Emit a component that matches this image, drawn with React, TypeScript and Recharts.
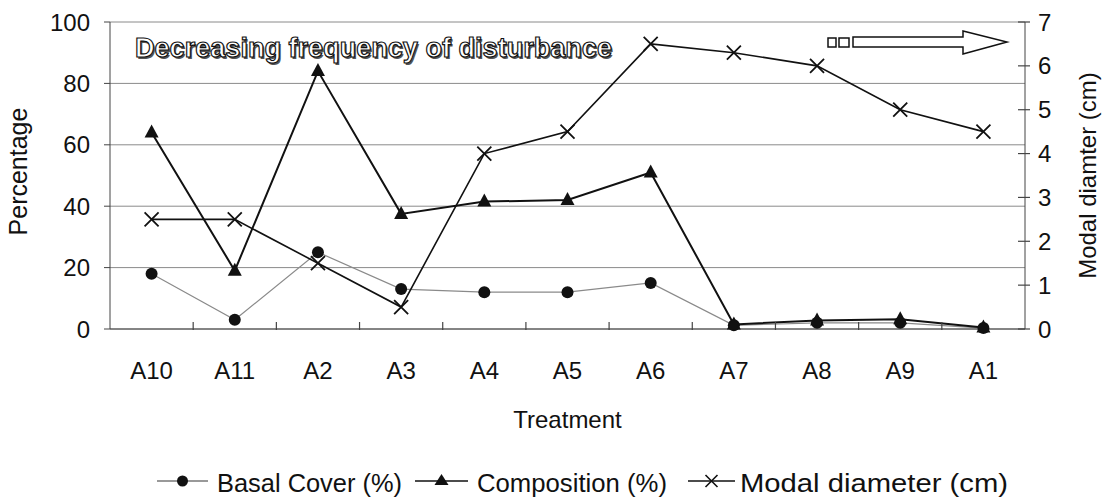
import { ComposedChart, Line, XAxis, YAxis, CartesianGrid, Legend, Customized } from 'recharts'

const treatments = ['A10', 'A11', 'A2', 'A3', 'A4', 'A5', 'A6', 'A7', 'A8', 'A9', 'A1']
const basalCover = [18, 3, 25, 13, 12, 12, 15, 1.2, 2, 2, 0.3]
const composition = [64, 19, 84, 37.5, 41.5, 42, 51, 1.5, 2.8, 3.2, 0.5]
const modalDiameter = [2.5, 2.5, 1.5, 0.5, 4, 4.5, 6.5, 6.3, 6, 5, 4.5]

const percentTicks = [0, 20, 40, 60, 80, 100]
const diameterTicks = [0, 1, 2, 3, 4, 5, 6, 7]

const chartData = treatments.map((name, i) => ({
  name,
  basal: basalCover[i],
  comp: composition[i],
  modal: modalDiameter[i],
}))

const FONT = '"Liberation Sans", Arial, sans-serif'
const INK = '#111'
const AXIS = '#444'
const X_TICK_MARGIN = 33
const R_TICK_MARGIN = 13

function CircleDot(props: any) {
  const { cx, cy, index } = props
  if (cx == null || cy == null) return null
  return <circle key={`c-${index}`} cx={cx} cy={cy} r={6} fill={INK} />
}

function TriangleDot(props: any) {
  const { cx, cy, index } = props
  if (cx == null || cy == null) return null
  return <polygon key={`t-${index}`} points={`${cx},${cy - 8} ${cx + 7},${cy + 5} ${cx - 7},${cy + 5}`} fill={INK} />
}

function CrossDot(props: any) {
  const { cx, cy, index } = props
  if (cx == null || cy == null) return null
  const s = 7
  return (
    <path
      key={`x-${index}`}
      d={`M${cx - s},${cy - s}L${cx + s},${cy + s}M${cx + s},${cy - s}L${cx - s},${cy + s}`}
      stroke={INK}
      strokeWidth={1.8}
      fill="none"
    />
  )
}

// category tick: label plus a small upward mark at the left band boundary
function CategoryTick(props: any) {
  const { x, y, payload, index } = props
  const axisY = y - X_TICK_MARGIN
  const bx = x - (payload?.offset || 0)
  return (
    <g>
      {index > 0 && <line x1={bx} y1={axisY + 1} x2={bx} y2={axisY - 7} stroke={AXIS} strokeWidth={1.2} />}
      <text x={x} y={y} dy="0.71em" textAnchor="middle" fontFamily={FONT} fontSize={24} fill={INK}>
        {payload.value}
      </text>
    </g>
  )
}

// right axis tick: mark crossing the axis line, label outside
function DiameterTick(props: any) {
  const { x, y, payload } = props
  const axisX = x - R_TICK_MARGIN
  return (
    <g>
      <line x1={axisX - 7} y1={y} x2={axisX + 5} y2={y} stroke={AXIS} strokeWidth={1.2} />
      <text x={x} y={y} dy="0.355em" textAnchor="start" fontFamily={FONT} fontSize={24} fill={INK}>
        {payload.value}
      </text>
    </g>
  )
}

function Annotation() {
  return (
    <g>
      <text x={136.5} y={58.5} fontFamily={FONT} fontWeight="bold" fontSize={28} textLength={477}
        lengthAdjust="spacingAndGlyphs" fill="#555">
        Decreasing frequency of disturbance
      </text>
      <text x={135} y={57} fontFamily={FONT} fontWeight="bold" fontSize={28} textLength={477}
        lengthAdjust="spacingAndGlyphs" fill="#fff" stroke={INK} strokeWidth={1.2}>
        Decreasing frequency of disturbance
      </text>
      <rect x={828} y={38} width={8} height={9} fill="#fff" stroke={INK} strokeWidth={1.5} />
      <rect x={839} y={38} width={10} height={9} fill="#fff" stroke={INK} strokeWidth={1.5} />
      <polygon points="853,37 963,37 963,31 1007,42 963,54 963,47 853,47" fill="#fff" stroke={INK} strokeWidth={1.5} />
    </g>
  )
}

function PercentLabel(props: any) {
  const { viewBox } = props
  const x = viewBox.x + 18
  const y = viewBox.y + viewBox.height / 2 - 4
  return (
    <text x={x} y={y} transform={`rotate(-90, ${x}, ${y})`} textAnchor="middle" dominantBaseline="central"
      fontFamily={FONT} fontSize={25} fill={INK}>
      Percentage
    </text>
  )
}

function DiameterLabel(props: any) {
  const { viewBox } = props
  const x = viewBox.x + 62
  const y = viewBox.y + viewBox.height / 2
  return (
    <text x={x} y={y} transform={`rotate(-90, ${x}, ${y})`} textAnchor="middle" dominantBaseline="central"
      fontFamily={FONT} fontSize={24} fill={INK}>
      Modal diamter (cm)
    </text>
  )
}

function TreatmentLabel(props: any) {
  const { viewBox } = props
  return (
    <text x={viewBox.x + viewBox.width / 2} y={428} textAnchor="middle" fontFamily={FONT} fontSize={24} fill={INK}>
      Treatment
    </text>
  )
}

const legendLabels = ['Basal Cover (%)', 'Composition (%)', 'Modal diameter (cm)']
const legendMarkers = ['circle', 'triangle', 'cross']
// icon start, icon width, text start, text width
const legendLayout = [
  { ix: 157, iw: 51, tx: 217, tw: 185, color: '#777' },
  { ix: 415, iw: 53, tx: 477, tw: 190, color: INK },
  { ix: 688, iw: 47, tx: 740, tw: 268, color: INK },
]

function renderLegend() {
  const cy = 481
  return (
    <svg width={1102} height={501} style={{ position: 'absolute', left: 0, top: 0, overflow: 'visible' }}>
      {legendLabels.map((label, i) => {
        const l = legendLayout[i]
        const cx = l.ix + l.iw / 2
        const m = legendMarkers[i]
        return (
          <g key={label}>
            <line x1={l.ix} y1={cy} x2={l.ix + l.iw} y2={cy} stroke={l.color} strokeWidth={1.5} />
            {m === 'circle' && <circle cx={cx} cy={cy} r={5.5} fill={INK} />}
            {m === 'triangle' && <polygon points={`${cx},${cy - 7} ${cx + 7},${cy + 4} ${cx - 7},${cy + 4}`} fill={INK} />}
            {m === 'cross' && (
              <path d={`M${cx - 6},${cy - 6}L${cx + 6},${cy + 6}M${cx + 6},${cy - 6}L${cx - 6},${cy + 6}`} stroke={INK} strokeWidth={1.6} />
            )}
            <text x={l.tx} y={492} fontFamily={FONT} fontSize={25} fill={INK} textLength={l.tw} lengthAdjust="spacingAndGlyphs">
              {label}
            </text>
          </g>
        )
      })}
    </svg>
  )
}

export default function App() {
  return (
    <div style={{ position: 'absolute', left: 0, top: 0, background: '#fff' }}>
      <ComposedChart width={1102} height={501} data={chartData} margin={{ top: 22, right: 0, left: 0, bottom: 72 }}>
        <CartesianGrid yAxisId="left" xAxisId="cat" vertical={false} stroke="#8a8a8a" strokeWidth={1} />
        <XAxis
          xAxisId="cat"
          dataKey="name"
          scale="band"
          height={100}
          tickSize={0}
          tickLine={false}
          tickMargin={X_TICK_MARGIN}
          axisLine={{ stroke: AXIS }}
          tick={<CategoryTick />}
          interval={0}
          label={<TreatmentLabel />}
        />
        <YAxis
          yAxisId="left"
          domain={[0, 100]}
          ticks={percentTicks}
          width={110}
          tickSize={6}
          tickMargin={14}
          axisLine={{ stroke: AXIS }}
          tickLine={{ stroke: AXIS }}
          tick={{ fontFamily: FONT, fontSize: 24, fill: INK }}
          label={<PercentLabel />}
        />
        <YAxis
          yAxisId="right"
          orientation="right"
          domain={[0, 7]}
          ticks={diameterTicks}
          width={77}
          tickSize={0}
          tickLine={false}
          tickMargin={R_TICK_MARGIN}
          axisLine={{ stroke: AXIS }}
          tick={<DiameterTick />}
          label={<DiameterLabel />}
        />
        <Line xAxisId="cat" yAxisId="left" dataKey="basal" name="Basal Cover (%)" stroke="#8a8a8a"
          strokeWidth={1.2} dot={CircleDot} activeDot={false} isAnimationActive={false} />
        <Line xAxisId="cat" yAxisId="left" dataKey="comp" name="Composition (%)" stroke={INK}
          strokeWidth={2} dot={TriangleDot} activeDot={false} isAnimationActive={false} />
        <Line xAxisId="cat" yAxisId="right" dataKey="modal" name="Modal diameter (cm)" stroke={INK}
          strokeWidth={1.6} dot={CrossDot} activeDot={false} isAnimationActive={false} />
        <Customized component={Annotation} />
        <Legend
          layout="horizontal"
          verticalAlign="middle"
          content={renderLegend}
          wrapperStyle={{ position: 'absolute', top: 0, left: 0, width: 1102, height: 501, pointerEvents: 'none' }}
        />
      </ComposedChart>
    </div>
  )
}
